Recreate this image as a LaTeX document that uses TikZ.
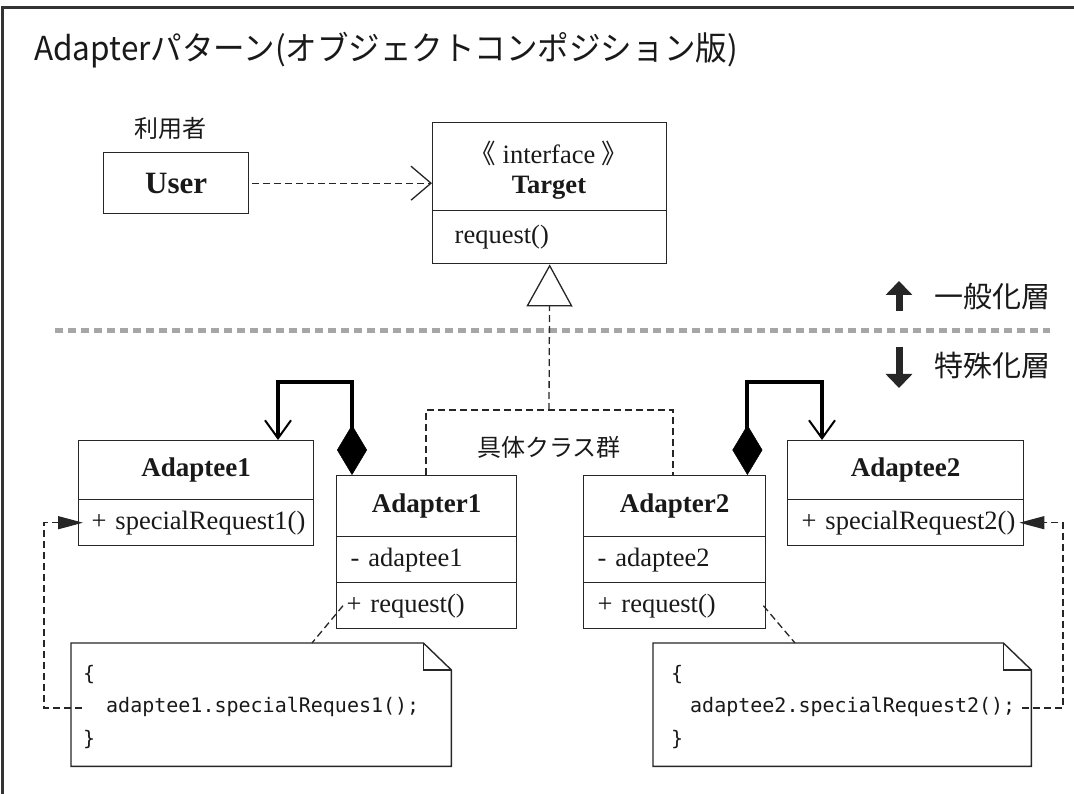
\documentclass[tikz,border=0pt]{standalone}
\usepackage{fontspec}
\setmainfont{Liberation Serif}
\newfontfamily\jpfont{Noto Sans CJK JP}
\newfontfamily\codefont{DejaVu Sans Mono}
\usetikzlibrary{arrows.meta,calc}

\tikzset{
  ink/.style={draw=black!85, line width=1.4pt},
  dashline/.style={draw=black!85, line width=1.3pt, dash pattern=on 7pt off 4pt},
  cell/.style={ink, rectangle, anchor=north west, inner sep=0pt, text=black!90,
    font=\fontsize{26.5}{30}\selectfont},
  namecell/.style={cell, font=\fontsize{27}{31}\selectfont\bfseries},
  membercell/.style={cell, align=left, minimum height=46pt},
  jplabel/.style={inner sep=0pt, text=black!90, font=\jpfont\fontsize{24}{28}\selectfont},
  layerlabel/.style={inner sep=0pt, anchor=west, text=black!90, font=\jpfont\fontsize{29}{32}\selectfont},
  codeline/.style={inner sep=0pt, anchor=west, text=black!90, font=\codefont\fontsize{20}{24}\selectfont},
  notebody/.style={inner sep=0pt, anchor=north west, minimum height=123pt},
  composition/.style={draw=black, line width=4pt,
    {Diamond[length=50pt,width=30pt,line width=0.5pt]}-{Straight Barb[length=18pt,width=26pt,line width=2pt]}},
  calls/.style={dashline, -{Triangle[length=25pt,width=13pt]}},
  layerarrow/.style={draw=black!85, line width=7pt, -{Triangle[length=14pt,width=26pt]}},
}

\begin{document}
\begin{tikzpicture}[x=1pt,y=-1pt]
\useasboundingbox (0,0) rectangle (1074,794);

% outer frame
\draw[line width=3pt, black!80] (1074,8) -- (2,8) -- (2,794);

% title
\node[anchor=west, inner sep=0pt, text=black!90, font=\jpfont\fontsize{33}{36}\selectfont]
  (title) at (34,50) {\scalebox{0.955}[1]{Adapterパターン(オブジェクトコンポジション版)}};

% user
\node[jplabel] (userlbl) at (170,128) {利用者};
\node[cell, minimum width=145pt, minimum height=61pt, font=\fontsize{31}{34}\selectfont\bfseries]
  (user) at (103,152) {User};

% Target interface
\node[cell, minimum width=234pt, minimum height=88pt] (tgthead) at (432,122) {};
\node[inner sep=0pt, align=center, text=black!90, font=\fontsize{26.5}{30}\selectfont]
  (tgtname) at (549,170) {{\jpfont 《} interface {\jpfont 》}\\\textbf{Target}};
\node[membercell, inner xsep=22pt, text width=190pt, minimum height=53pt]
  (tgtops) at (432,210) {\mbox{request()}};

% layer separator
\draw[line width=5pt, black!35, dash pattern=on 8pt off 5pt] (55,331) -- (1050,331);
\coordinate (up0) at (899,311);
\coordinate (up1) at (899,281);
\coordinate (dn0) at (899,347);
\coordinate (dn1) at (899,388);
\draw[layerarrow] (up0) -- (up1);
\draw[layerarrow] (dn0) -- (dn1);
\node[layerlabel] (gen) at (934,297) {一般化層};
\node[layerlabel] (spec) at (934,366) {特殊化層};

% Adaptee1
\node[namecell, minimum width=235pt, minimum height=59pt] (a1name) at (78,440) {Adaptee1};
\node[membercell, inner xsep=13pt, text width=209pt] (a1ops) at (78,499) {\mbox{+ specialRequest1()}};

% Adapter1
\node[namecell, minimum width=180pt, minimum height=61pt] (ad1name) at (336,475) {Adapter1};
\node[membercell, inner xsep=14pt, text width=152pt] (ad1attr) at (336,536) {\mbox{- adaptee1}};
\node[membercell, inner xsep=10pt, text width=160pt] (ad1ops) at (336,582) {\mbox{+ request()}};

% Adapter2
\node[namecell, minimum width=182pt, minimum height=61pt] (ad2name) at (583,475) {Adapter2};
\node[membercell, inner xsep=14pt, text width=154pt] (ad2attr) at (583,536) {\mbox{- adaptee2}};
\node[membercell, inner xsep=14pt, text width=154pt] (ad2ops) at (583,582) {\mbox{+ request()}};

% Adaptee2
\node[namecell, minimum width=236pt, minimum height=59pt] (a2name) at (787,440) {Adaptee2};
\node[membercell, inner xsep=14pt, text width=208pt] (a2ops) at (787,499) {\mbox{+ specialRequest2()}};

% group of concrete classes
\node[jplabel] (grp) at (549,447) {具体クラス群};
\coordinate (grptop) at (549,410);
\coordinate (g1) at (426,475);
\coordinate (g2) at (673,475);
\draw[dashline] (g1) |- (grptop) -| (g2);

% realization
\draw[dashline, -{Triangle[open, length=42pt, width=46pt, line width=1.3pt]}] (grptop) -- (tgtops.south);

% dependency
\draw[dashline, -{Straight Barb[length=20pt,width=34pt,line width=1.3pt]}]
  ([xshift=3pt]user.east) -- (user.east -| tgthead.west);

% compositions
\coordinate (c1) at (278,382);
\coordinate (c2) at (822,382);
\draw[composition] ([xshift=16pt]ad1name.north west) |- (c1) -- (c1 |- a1name.north);
\draw[composition] ([xshift=-19pt]ad2name.north east) |- (c2) -- (c2 |- a2name.north);

% notes
\node[notebody, minimum width=380pt] (note1) at (71,643) {};
\node[notebody, minimum width=378pt] (note2) at (653,643) {};
\draw[ink, fill=white] (note1.north west) -- ([xshift=-28pt]note1.north east) -- ([yshift=-27pt]note1.north east)
  -- (note1.south east) -- (note1.south west) -- cycle;
\draw[ink] ([xshift=-28pt]note1.north east) |- ([yshift=-27pt]note1.north east);
\draw[ink, fill=white] (note2.north west) -- ([xshift=-28pt]note2.north east) -- ([yshift=-27pt]note2.north east)
  -- (note2.south east) -- (note2.south west) -- cycle;
\draw[ink] ([xshift=-28pt]note2.north east) |- ([yshift=-27pt]note2.north east);

\node[codeline] (n1a) at (83,675) {\{};
\node[codeline] (n1b) at (106,707) {adaptee1.specialReques1();};
\node[codeline] (n1c) at (83,740) {\}};
\node[codeline] (n2a) at (671,675) {\{};
\node[codeline] (n2b) at (690,707) {adaptee2.specialRequest2();};
\node[codeline] (n2c) at (671,740) {\}};

% note anchors
\draw[dashline] ([xshift=7pt]ad1ops.west) -- ([xshift=241pt]note1.north west);
\draw[dashline] ([xshift=-3pt]ad2ops.east) -- ([xshift=142pt]note2.north west);

% calls from notes to adaptees
\coordinate (s1) at (82,708);
\coordinate (k1) at (44,708);
\coordinate (s2) at (1022,708);
\coordinate (k2) at (1063,708);
\draw[calls] (s1) -- (k1) |- ([xshift=5pt]a1ops.west);
\draw[calls] (s2) -- (k2) |- ([xshift=-5pt]a2ops.east);
\end{tikzpicture}
\end{document}
